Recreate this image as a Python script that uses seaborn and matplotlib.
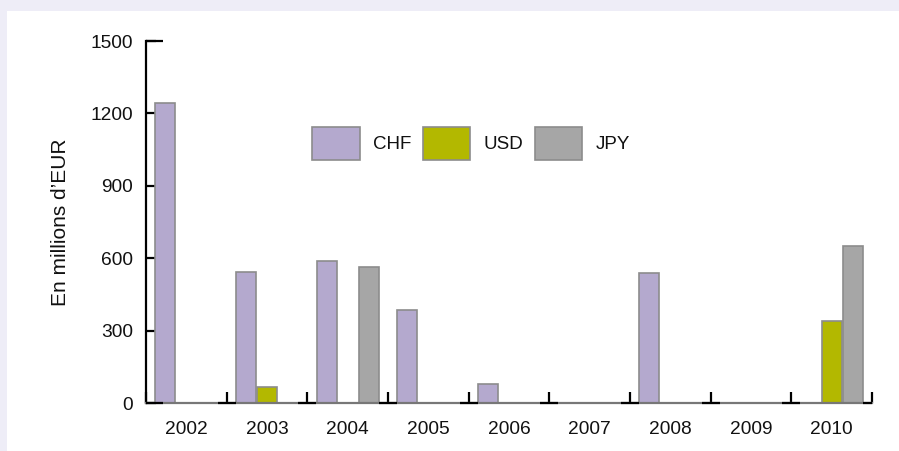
import numpy as np
import pandas as pd
import matplotlib
matplotlib.use("Agg")
import matplotlib.pyplot as plt
from matplotlib.patches import Rectangle
import seaborn as sns

years = ["2002", "2003", "2004", "2005", "2006", "2007", "2008", "2009", "2010"]
chf = [1245, 544, 588, 387, 77, 0, 539, 0, 0]
usd = [0, 68, 0, 0, 0, 0, 0, 0, 341]
jpy = [0, 0, 564, 0, 0, 0, 0, 0, 652]
currencies = ["CHF", "USD", "JPY"]
colors = ["#B4A9CE", "#B3B800", "#A6A6A6"]
y_ticks = [0, 300, 600, 900, 1200, 1500]
y_label = "En millions d\u2019EUR"

df = pd.DataFrame({
    "year": years * 3,
    "currency": [c for c in currencies for _ in years],
    "value": chf + usd + jpy,
})

sns.set_style("white")
plt.rcParams["font.family"] = ["Liberation Sans", "DejaVu Sans"]
plt.rcParams["font.size"] = 13.5
plt.rcParams["text.color"] = "#111111"

fig = plt.figure(figsize=(8.99, 4.51), dpi=100, facecolor="white")
band = "#EEEDF7"
fig.patches.append(Rectangle((0, 1 - 11 / 451), 1, 11 / 451, transform=fig.transFigure,
                             facecolor=band, edgecolor="none", zorder=-10))
fig.patches.append(Rectangle((0, 0), 6.5 / 899, 1, transform=fig.transFigure,
                             facecolor=band, edgecolor="none", zorder=-10))

ax = fig.add_axes([146 / 899, 1 - 403 / 451, (872 - 146) / 899, (403 - 41) / 451])
ax.set_facecolor("none")

sns.barplot(data=df, x="year", y="value", hue="currency", hue_order=currencies,
            palette=colors, width=0.78, gap=0.04, edgecolor="#8C8C8C", linewidth=1.2,
            saturation=1, ax=ax, legend=True)

x0, x1 = -0.5, len(years) - 0.5
ax.set_xlim(x0, x1)
ax.set_ylim(0, 1500)
ax.set_yticks(y_ticks)
ax.set_xlabel("")
ax.set_ylabel(y_label, fontsize=15, color="#111111")
ax.yaxis.set_label_coords(-0.104, 0.5)

for side in ["top", "right"]:
    ax.spines[side].set_visible(False)
ax.spines["left"].set_color("black")
ax.spines["left"].set_linewidth(1.6)
ax.spines["bottom"].set_color("#777777")
ax.spines["bottom"].set_linewidth(1.6)

ax.tick_params(axis="y", direction="in", length=7, width=1.6, color="black", pad=9.5,
               labelsize=13.8, labelcolor="#111111", left=True)
ax.tick_params(axis="x", which="major", length=0, pad=13, labelsize=13.8,
               labelcolor="#111111")
bounds = np.arange(len(years) + 1) - 0.5
ax.set_xticks(bounds, minor=True)
ax.tick_params(axis="x", which="minor", direction="in", length=8, width=1.6,
               color="black", bottom=True)
# short black baseline segments under the inner group boundary ticks
inner = bounds[1:-1]
ax.plot(inner, np.zeros_like(inner), linestyle="none", marker="_", markersize=13,
        markeredgewidth=1.6, color="black", clip_on=False, zorder=5)
# end caps: at both ends of the baseline and at the top of the value axis
ax.hlines(0, x0, x0 + 0.21, color="black", linewidth=1.6, clip_on=False, zorder=5)
ax.hlines(0, x1 - 0.11, x1, color="black", linewidth=1.6, clip_on=False, zorder=5)
ax.hlines(y_ticks[-1], x0, x0 + 0.21, color="black", linewidth=1.6, clip_on=False)

leg = ax.legend(ncol=3, frameon=False, loc="upper left",
                bbox_to_anchor=(312 / 899, 1 - 127 / 451), bbox_transform=fig.transFigure,
                handlelength=2.55, handleheight=2.35, handletextpad=0.7,
                columnspacing=0.6, borderpad=0, borderaxespad=0, fontsize=13.5)
for h in leg.legend_handles:
    h.set_edgecolor("#8C8C8C")
    h.set_linewidth(1.2)

fig.savefig("out.png", dpi=100, facecolor="white")
